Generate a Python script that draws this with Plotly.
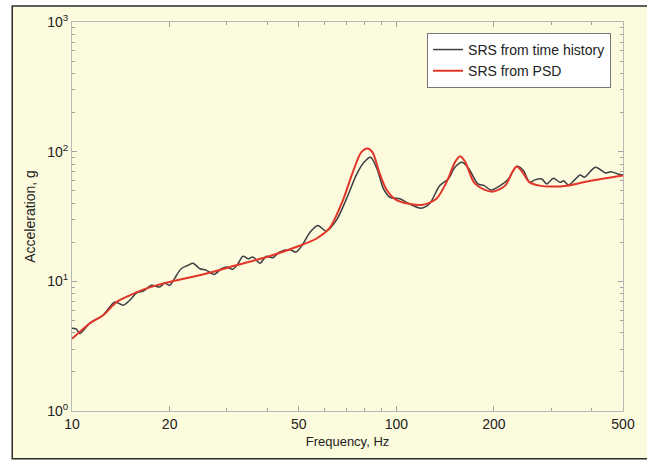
import plotly.graph_objects as go

# SRS from PSD (red)
psd_f = [10, 11.36, 12.48, 13.73, 15.07, 16.57, 18.2, 20.0, 25.3, 32.1, 40.6, 49.1, 56.6, 62.3, 68.4,
         73.4, 77.9, 81.5, 84.5, 88.6, 93.0, 99.6, 109.6, 120.7, 132.9, 142.8, 151.6, 157.4, 163.3,
         173.6, 186.8, 198.7, 216.6, 227.7, 235, 245, 257.6, 277, 305, 336, 391, 500]
psd_a = [3.6, 4.75, 5.47, 6.93, 7.8, 8.63, 9.31, 9.89, 11.3, 13.3, 15.6, 18.4, 21.3, 25.8, 42,
         69.3, 98.8, 106, 98.8, 69.3, 51.6, 42.7, 39.6, 38.9, 43.3, 58, 82.7, 92, 82.7,
         58, 51, 49.2, 54.7, 69.3, 77, 69.3, 58, 54.7, 53.8, 54.7, 59.1, 65.5]

# SRS from time history (black)
th_f = [10, 10.3, 10.58, 11.36, 12.48, 13.56, 14.38, 15.07, 15.8, 16.57, 17.6, 18.65, 19.3, 20.0,
        20.7, 21.7, 22.8, 23.6, 24.8, 25.9, 27.4, 28.9, 30.0, 31.3, 32.5, 33.7, 35.0, 36.1, 38.0,
        39.7, 41.6, 43.6, 47.0, 49.1, 51.6, 54.2, 57.3, 60.8, 65.3, 70.9, 75.1, 79.5, 83.3, 87.2,
        91.3, 95.6, 102.6, 109.6, 119.2, 126.6, 136, 144.6, 151.6, 159.5, 167.5, 178.4, 186.8,
        195.8, 209, 221.6, 235, 246.5, 257.6, 267.4, 280.8, 290.9, 305, 320, 328, 340, 369, 380,
        411, 442, 460, 482, 500]
th_a = [4.35, 4.3, 3.96, 4.78, 5.5, 6.93, 6.54, 7.14, 8.13, 8.42, 9.31, 9.03, 9.7, 9.31,
        10.5, 12.5, 13.3, 13.8, 12.5, 12.2, 11.3, 12.5, 12.9, 12.4, 13.7, 15.6, 14.9, 15.4, 13.8,
        15.6, 15.2, 16.8, 17.5, 16.8, 19.5, 23.9, 27, 24.4, 29.5, 45.9, 65.3, 82.7, 90.4, 73.6,
        51.6, 44.5, 43.3, 39.6, 36.6, 39.6, 54.7, 61.6, 75.7, 82.7, 73.6, 56.4, 54.7,
        50.7, 54.7, 61.6, 77, 71.5, 58, 60.6, 61.6, 56.4, 62.3, 58, 59.6, 55.4, 66.2, 63.4,
        75.7, 68.6, 70, 67.3, 66]

x_tickvals = [10, 20, 50, 100, 200, 500]
x_ticktext = ["10", "20", "50", "100", "200", "500"]
x_minorvals = [30, 40, 60, 70, 80, 90, 300, 400]

y_tickvals = [1, 10, 100, 1000]
y_ticktext = ["10<sup>0</sup>", "10<sup>1</sup>", "10<sup>2</sup>", "10<sup>3</sup>"]
y_minorvals = [m * 10 ** e for e in range(0, 3) for m in range(2, 10)]

FONT = "Liberation Sans, Arial, Helvetica, sans-serif"

fig = go.Figure()
fig.add_trace(go.Scatter(x=th_f, y=th_a, mode="lines", name="SRS from time history",
                         line=dict(color="#3c3f44", width=1.5, shape="spline", smoothing=0.8)))
fig.add_trace(go.Scatter(x=psd_f, y=psd_a, mode="lines", name="SRS from PSD",
                         line=dict(color="#e2362a", width=2, shape="spline", smoothing=0.8)))

L, R, T, B = 72, 625, 20, 411
W, H = R - L, B - T

def px_x(p):
    return (p - L) / W

def px_y(p):
    return (B - p) / H

fig.add_shape(type="rect", xref="paper", yref="paper",
              x0=px_x(12), x1=px_x(652), y0=px_y(459), y1=px_y(4),
              fillcolor="#fdfbdd", line=dict(color="#2a2a2a", width=1.5), layer="below")

axis_common = dict(showline=True, linecolor="#b8b8b8", linewidth=1, mirror="ticks",
                   ticks="inside", ticklen=5, tickcolor="#a0a0a0", showgrid=False, zeroline=False,
                   tickfont=dict(family=FONT, size=14, color="#222"))

fig.update_layout(
    width=647, height=462,
    margin=dict(l=L, r=647 - R, t=T, b=462 - B),
    paper_bgcolor="white", plot_bgcolor="white",
    font=dict(family=FONT, size=14, color="#222"),
    xaxis=dict(type="log", range=[1, 2.69897], tickmode="array", tickvals=x_tickvals,
               ticktext=x_ticktext,
               minor=dict(tickmode="array", tickvals=x_minorvals, ticks="inside", ticklen=3,
                          tickcolor="#a0a0a0", showgrid=False),
               title=dict(text="Frequency, Hz", font=dict(family=FONT, size=13, color="#222"), standoff=6),
               **axis_common),
    yaxis=dict(type="log", range=[0, 3], tickmode="array", tickvals=y_tickvals,
               ticktext=y_ticktext,
               minor=dict(tickmode="array", tickvals=y_minorvals, ticks="inside", ticklen=3,
                          tickcolor="#a0a0a0", showgrid=False),
               title=dict(text="Acceleration, g", font=dict(family=FONT, size=14, color="#222"), standoff=8),
               **axis_common),
    legend=dict(x=px_x(613), y=px_y(31), xanchor="right", yanchor="top",
                bgcolor="white", bordercolor="#777", borderwidth=1,
                font=dict(family=FONT, size=14, color="#222"),
                tracegroupgap=0, itemwidth=30),
    showlegend=True,
)

fig.write_html("out.html")
